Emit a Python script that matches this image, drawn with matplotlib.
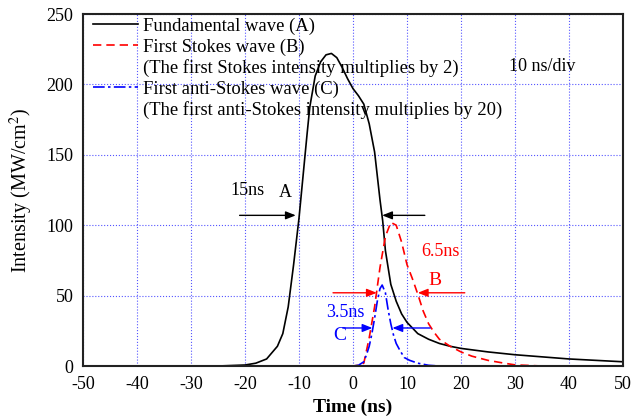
import numpy as np
import matplotlib
matplotlib.use("Agg")
import matplotlib.pyplot as plt
from matplotlib.lines import Line2D

# values
t_a = [-50, -25, -20, -18, -16, -14, -13, -12, -11, -10, -9, -8.5, -8, -7, -6, -5, -4, -3, -2, -1,
       0, 1, 2, 3, 4, 5, 5.5, 6, 7, 8, 9, 10, 12, 14, 16, 18, 20, 25, 30, 35, 40, 45, 50]
i_a = [0, 0, 0.7, 2, 5, 14, 23, 42, 72, 105, 145, 165, 184, 206, 216, 221, 222, 219, 212, 204,
       197, 192, 186, 172, 152, 118, 103, 82, 58, 46, 37, 31, 23, 19, 16, 14, 12.5, 10, 8, 6.5, 5, 4, 3]

t_b = [-50, 0, 1, 2, 3, 4, 4.6, 5, 6, 7, 8, 9, 10, 11, 12, 13, 14, 15, 16, 18, 20, 22, 25, 28, 30, 35, 50]
i_b = [0, 0, 0.5, 2, 20, 42, 59, 70, 92, 102, 100, 88, 72, 62, 51, 39, 30, 24, 19, 14, 10, 7, 4, 2, 0.8, 0, 0]

t_c = [-50, 0, 1, 2, 2.5, 3, 3.5, 4, 4.5, 5, 5.4, 6, 6.5, 7, 7.5, 8, 8.7, 9.5, 10.5, 12, 14, 16, 50]
i_c = [0, 0, 0.5, 3, 8, 14, 23, 34, 46, 55, 57.5, 52, 40, 30, 22, 16, 11, 6, 4, 2, 0.5, 0, 0]

labels = ["Fundamental wave (A)",
          "First Stokes wave (B)",
          "(The first Stokes intensity multiplies by 2)",
          "First anti-Stokes wave (C)",
          "(The first anti-Stokes intensity multiplies by 20)"]

plt.rcParams['font.family'] = ['Liberation Serif', 'DejaVu Serif']
plt.rcParams['mathtext.fontset'] = 'stix'
plt.rcParams['axes.unicode_minus'] = False

fig = plt.figure(figsize=(6.42, 4.17), dpi=100)
ax = fig.add_axes([0.1293, 0.1223, 0.8411, 0.8441])

la, = ax.plot(t_a, i_a, color='black', lw=1.2)
lb, = ax.plot(t_b, i_b, color='red', lw=1.2, ls=(0, (5, 3)))
lc, = ax.plot(t_c, i_c, color='blue', lw=1.2, ls=(0, (7, 2, 1.5, 2)))

ax.set_xlim(-50, 50)
ax.set_ylim(0, 250)
ax.set_xticks(np.arange(-50, 51, 10))
ax.set_yticks(np.arange(0, 251, 50))
ax.tick_params(length=0, labelsize=13, pad=7)
ax.grid(True, color='#5555ff', ls=':', lw=0.8)
for s in ax.spines.values():
    s.set_color('#222222')
    s.set_linewidth(1.5)

ax.set_xlabel("Time (ns)", fontsize=14, fontweight='bold', labelpad=4)
ax.set_ylabel("Intensity (MW/cm$^2$)", fontsize=14.5, labelpad=8)

blank = Line2D([], [], color='none')
ax.legend([la, lb, blank, lc, blank], labels, loc='upper left', frameon=False,
          fontsize=13.4, handlelength=2.4, handletextpad=0.28, labelspacing=0.18,
          borderaxespad=0.0, borderpad=0.2, bbox_to_anchor=(0.012, 1.0))

ax.text(35, 213, "10 ns/div", fontsize=13, ha='center', va='center')

def arrow(x0, x1, y, color):
    ax.annotate("", xy=(x1, y), xytext=(x0, y),
                arrowprops=dict(arrowstyle='-|>,head_length=0.5,head_width=0.2', color=color,
                                lw=1, mutation_scale=12, shrinkA=0, shrinkB=0))

arrow(-21, -10.6, 107, 'black')
arrow(13.3, 5.4, 107, 'black')
ax.text(-19.6, 125, "15ns", fontsize=13, ha='center', va='center')
ax.text(-12.6, 123, "A", fontsize=13, ha='center', va='center')

arrow(-3.7, 4.4, 52, 'red')
arrow(20.7, 12.0, 52, 'red')
ax.text(16.1, 81, "6.5ns", fontsize=13, color='red', ha='center', va='center')
ax.text(15.2, 61, "B", fontsize=14, color='red', ha='center', va='center')

arrow(-1.9, 3.6, 27, 'blue')
arrow(14.3, 7.3, 27, 'blue')
ax.text(-1.5, 38, "3.5ns", fontsize=13, color='blue', ha='center', va='center')
ax.text(-2.4, 22, "C", fontsize=14, color='blue', ha='center', va='center')

fig.savefig("out.png", dpi=100)
